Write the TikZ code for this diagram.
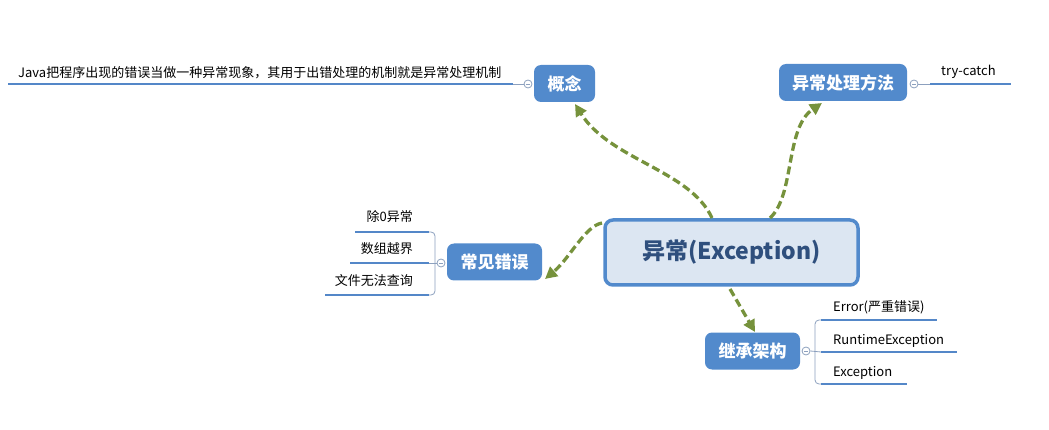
\documentclass[tikz,border=0pt]{standalone}
\usepackage{fontspec}
\setmainfont{Noto Sans CJK SC}
\usetikzlibrary{arrows.meta}

\definecolor{topicblue}{RGB}{82,138,204}
\definecolor{rootfill}{RGB}{220,230,242}
\definecolor{roottext}{RGB}{47,79,125}
\definecolor{linkgreen}{RGB}{118,146,60}
\definecolor{branchblue}{RGB}{84,135,200}
\definecolor{foldgray}{RGB}{140,160,190}

\tikzset{
  root/.style={draw=topicblue, line width=3.5pt, fill=rootfill, rounded corners=8pt,
    minimum width=253pt, minimum height=65pt, text=roottext,
    font=\fontsize{23}{27}\selectfont\bfseries},
  topic/.style={fill=topicblue, rounded corners=7pt, minimum height=37pt, inner sep=0pt,
    text=white, font=\fontsize{17}{20}\selectfont\bfseries},
  leaf/.style={font=\fontsize{13}{16}\selectfont, inner sep=0pt},
  branch/.style={draw=branchblue, line width=2.5pt},
  twig/.style={draw=foldgray, line width=0.8pt, rounded corners=4pt},
  fold/.style={circle, draw=foldgray, fill=white, line width=0.8pt, minimum size=8pt, inner sep=0pt,
    path picture={\draw[foldgray, line width=0.8pt]
      ([xshift=-2pt]path picture bounding box.center) -- ([xshift=2pt]path picture bounding box.center);}},
  link/.style={draw=linkgreen, line width=3.3pt, dash pattern=on 8pt off 4pt,
    -{Triangle[length=12pt,width=12pt]}},
}

\begin{document}
\begin{tikzpicture}[x=1pt, y=-1pt]
    \useasboundingbox (0,0) rectangle (1049,430);

    % 1. 中心主题与分支主题
    \node[root] (exc) at (731.5,252.5) {异常(Exception)};
    \node[topic, minimum width=61pt] (concept) at (564.5,83.5) {概念};
    \node[topic, minimum width=128pt] (method) at (843,82.5) {异常处理方法};
    \node[topic, minimum width=95pt] (errors) at (494.5,262) {常见错误};
    \node[topic, minimum width=95pt] (arch) at (752.5,351) {继承架构};

    % 2. 折叠按钮
    \node[fold] (fconcept) at (528,84) {};
    \node[fold] (fmethod) at (914,84) {};
    \node[fold] (ferrors) at (441,263) {};
    \node[fold] (farch) at (806,351) {};

    % 3. 虚线箭头 (中心 -> 分支)
    \coordinate (s1) at (712,218);
    \coordinate (e1) at (575,104);
    \draw[link] (s1) .. controls (690,170) and (610,160) .. (e1);
    \coordinate (s2) at (770,218);
    \coordinate (e2) at (822,103);
    \draw[link] (s2) .. controls (795,195) and (785,128) .. (e2);
    \coordinate (s3) at (602,223);
    \coordinate (e3) at (545,279);
    \draw[link] (s3) .. controls (585,226) and (570,258) .. (e3);
    \coordinate (s4) at (730,289);
    \coordinate (e4) at (755,332);
    \draw[link] (s4) -- (e4);

    % 4. 概念 的子节点
    \coordinate (c1a) at (513,84);
    \coordinate (c1b) at (8,84);
    \draw[twig] (fconcept.west) -- (c1a);
    \draw[branch] (c1a) -- (c1b);
    \node[leaf, anchor=base west] (t1) at (18,78)
        {Java把程序出现的错误当做一种异常现象，其用于出错处理的机制就是异常处理机制};

    % 5. 异常处理方法 的子节点
    \coordinate (c2a) at (930,84);
    \coordinate (c2b) at (1011,84);
    \draw[twig] (fmethod.east) -- (c2a);
    \draw[branch] (c2a) -- (c2b);
    \node[leaf, anchor=base west] (t2) at (941,76) {try-catch};

    % 6. 常见错误 的子节点
    \coordinate (k1) at (429,232);
    \coordinate (k2) at (429,263);
    \coordinate (k3) at (429,295);
    \draw[twig] (k1) -- (435,232) -- (435,295) -- (k3);
    \draw[twig] (ferrors.west) -- (k2);
    \draw[branch] (k1) -- (355,232);
    \draw[branch] (k2) -- (350,263);
    \draw[branch] (k3) -- (325,295);
    \node[leaf, anchor=base east] (t3) at (413,222) {除0异常};
    \node[leaf, anchor=base east] (t4) at (413,254) {数组越界};
    \node[leaf, anchor=base east] (t5) at (413,286) {文件无法查询};

    % 7. 继承架构 的子节点
    \coordinate (j1) at (821,320);
    \coordinate (j2) at (821,352);
    \coordinate (j3) at (821,384);
    \draw[twig] (j1) -- (815,320) -- (815,384) -- (j3);
    \draw[twig] (farch.east) -- (j2);
    \draw[branch] (j1) -- (937,320);
    \draw[branch] (j2) -- (957,352);
    \draw[branch] (j3) -- (907,384);
    \node[leaf, anchor=base west] (t6) at (833,311) {Error(严重错误)};
    \node[leaf, anchor=base west] (t7) at (833,344) {RuntimeException};
    \node[leaf, anchor=base west] (t8) at (833,376) {Exception};
\end{tikzpicture}
\end{document}
